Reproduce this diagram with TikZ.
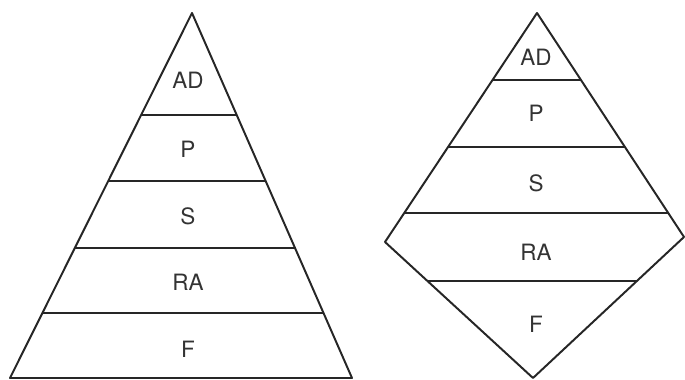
\documentclass[tikz,border=0pt]{standalone}
\usepackage{fontspec}
\setsansfont{TeX Gyre Heros}
\usepackage{tikz}
\usetikzlibrary{calc, positioning}
\tikzset{
  shapeline/.style={
    line width=1.4pt, line join=round, color=black!85
  },
  layerline/.style={
    line width=1.2pt, color=black!85
  },
  layerlabel/.style={
    font=\sffamily\fontsize{16}{18}\selectfont, text=black!80, inner sep=1pt
  },
}

\begin{document}
\begin{tikzpicture}[x=0.025cm, y=-0.025cm]
  \useasboundingbox (0,0) rectangle (685,380);

  % === Pyramid ===
  \coordinate (pyrtop) at (192,13);
  \coordinate (pyrleft) at (10,378);
  \coordinate (pyrright) at (352,378);

  \begin{scope}
    \clip (pyrtop) -- (pyrleft) -- (pyrright) -- cycle;
    \foreach \y in {115,181,248,313}
      \draw[layerline] (0,\y) -- (360,\y);
  \end{scope}
  \draw[shapeline] (pyrtop) -- (pyrleft) -- (pyrright) -- cycle;

  \node[layerlabel] (pyrAD) at (188,80) {AD};
  \node[layerlabel] (pyrP)  at (188,149) {P};
  \node[layerlabel] (pyrS)  at (188,216) {S};
  \node[layerlabel] (pyrRA) at (188,282) {RA};
  \node[layerlabel] (pyrF)  at (188,349) {F};

  % === Diamond ===
  \coordinate (diatop) at (537,13);
  \coordinate (dialeft) at (385,242);
  \coordinate (diaright) at (684,237);
  \coordinate (diabottom) at (533,378);

  \begin{scope}
    \clip (diatop) -- (dialeft) -- (diabottom) -- (diaright) -- cycle;
    \foreach \y in {80,147,213,281}
      \draw[layerline] (380,\y) -- (690,\y);
  \end{scope}
  \draw[shapeline] (diatop) -- (dialeft) -- (diabottom) -- (diaright) -- cycle;

  \node[layerlabel] (diaAD) at (536,57) {AD};
  \node[layerlabel] (diaP)  at (536,113) {P};
  \node[layerlabel] (diaS)  at (536,183) {S};
  \node[layerlabel] (diaRA) at (536,252) {RA};
  \node[layerlabel] (diaF)  at (536,324) {F};

\end{tikzpicture}
\end{document}
